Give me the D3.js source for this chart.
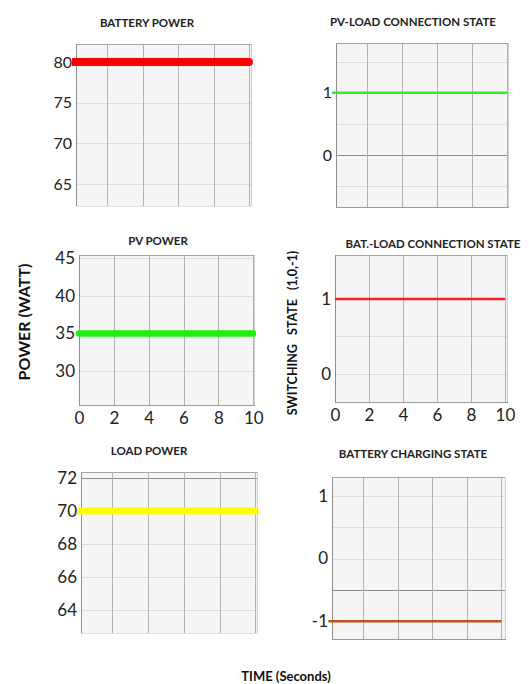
<!DOCTYPE html>
<html>
<head>
<meta charset="utf-8">
<script src="https://cdn.jsdelivr.net/npm/d3@7"></script>
<style>
  html, body { margin: 0; padding: 0; background: #ffffff; }
  svg { display: block; }
</style>
</head>
<body>
<svg id="chart" width="529" height="684"></svg>
<script>
// ---- data ----
const time = [0, 1, 2, 3, 4, 5, 6, 7, 8, 9, 10];
const batteryPower = [80, 80, 80, 80, 80, 80, 80, 80, 80, 80, 80];
const pvPower = [35, 35, 35, 35, 35, 35, 35, 35, 35, 35, 35];
const loadPower = [70, 70, 70, 70, 70, 70, 70, 70, 70, 70, 70];
const pvLoadState = [1, 1, 1, 1, 1, 1, 1, 1, 1, 1, 1];
const batLoadState = [1, 1, 1, 1, 1, 1, 1, 1, 1, 1, 1];
const chargingState = [-1, -1, -1, -1, -1, -1, -1, -1, -1, -1, -1];
const xTicks = [0, 2, 4, 6, 8, 10];
const titles = ["BATTERY POWER", "PV-LOAD CONNECTION STATE", "PV POWER",
                "BAT.-LOAD CONNECTION STATE", "LOAD POWER", "BATTERY CHARGING STATE"];
const batteryTicks = [65, 70, 75, 80];
const pvTicks = [30, 35, 40, 45];
const loadTicks = [64, 66, 68, 70, 72];
const stateTicks01 = [0, 1];
const stateTicks3 = [-1, 0, 1];

// ---- layout (positions / styles) ----
const panels = [
  { title: titles[0], values: batteryPower, box: [76, 44, 252, 207], xd: [0.25, 10.17], yd: [62.2, 82.2],
    yTicks: batteryTicks, hGrid: batteryTicks, dark: [], color: "#ff0000", width: 8, cap: "round",
    titleX: 147, titleY: 27, showX: false, yFont: 16 },
  { title: titles[1], values: pvLoadState, box: [336, 43, 509, 208], xd: [0.23, 10.11], yd: [-0.85, 1.8],
    yTicks: stateTicks01, hGrid: [-0.5, 0, 0.5, 1, 1.5], dark: [0], color: "#33ee22", width: 2.5, cap: "butt",
    titleX: 413, titleY: 26, showX: false, yFont: 16 },
  { title: titles[2], values: pvPower, box: [79, 255, 255, 406], xd: [0, 10.1], yd: [25.4, 45.4],
    yTicks: pvTicks, hGrid: pvTicks, dark: [], color: "#22ee11", width: 6.5, cap: "round",
    titleX: 158, titleY: 245, showX: true, yFont: 17 },
  { title: titles[3], values: batLoadState, box: [335, 255, 508, 403], xd: [0, 10.18], yd: [-0.39, 1.59],
    yTicks: stateTicks01, hGrid: [0, 0.5, 1], dark: [], color: "#ee2222", width: 2.5, cap: "butt",
    titleX: 433, titleY: 248, showX: true, yFont: 17 },
  { title: titles[4], values: loadPower, box: [81, 472, 258, 634], xd: [0.26, 10.15], yd: [62.55, 72.36],
    yTicks: loadTicks, hGrid: loadTicks, dark: [72], color: "#ffff00", width: 7, cap: "round",
    titleX: 149, titleY: 455, showX: false, yFont: 17 },
  { title: titles[5], values: chargingState, box: [332, 477, 506, 640], xd: [0.21, 10.27], yd: [-1.3, 1.3],
    yTicks: stateTicks3, hGrid: [-1, -0.5, 0, 0.5, 1], dark: [-0.5], color: "#b8521f", width: 2.5, cap: "butt",
    titleX: 413, titleY: 458, showX: false, yFont: 17 }
];

const svg = d3.select("#chart");
const FONT = "Lato, 'Open Sans', sans-serif";
const fmt = d => String(d);

panels.forEach((p, i) => {
  const [x0, y0, x1, y1] = p.box;
  const x = d3.scaleLinear().domain(p.xd).range([x0, x1]);
  const y = d3.scaleLinear().domain(p.yd).range([y1, y0]);
  const g = svg.append("g");

  // background
  g.append("rect").attr("x", x0).attr("y", y0).attr("width", x1 - x0).attr("height", y1 - y0)
    .attr("fill", "#f5f5f5");

  // horizontal grid
  g.selectAll(".hg").data(p.hGrid).enter().append("line")
    .attr("x1", x0).attr("x2", x1)
    .attr("y1", d => Math.round(y(d)) + 0.5).attr("y2", d => Math.round(y(d)) + 0.5)
    .attr("stroke", d => p.dark.includes(d) ? "#8c8c8c" : "#dcdcdc").attr("stroke-width", 1);

  // vertical grid
  g.selectAll(".vg").data(xTicks.filter(t => t > 0)).enter().append("line")
    .attr("x1", d => Math.round(x(d)) + 0.5).attr("x2", d => Math.round(x(d)) + 0.5)
    .attr("y1", y0).attr("y2", y1)
    .attr("stroke", "#b3b3b3").attr("stroke-width", 1);

  // border: top & left darker, right lighter
  g.append("line").attr("x1", x0).attr("x2", x1).attr("y1", y0 + 0.5).attr("y2", y0 + 0.5)
    .attr("stroke", "#a6a6a6");
  g.append("line").attr("x1", x0 + 0.5).attr("x2", x0 + 0.5).attr("y1", y0).attr("y2", y1)
    .attr("stroke", "#8f8f8f");
  g.append("line").attr("x1", x1 - 0.5).attr("x2", x1 - 0.5).attr("y1", y0).attr("y2", y1)
    .attr("stroke", "#d0d0d0");
  if (i % 2 === 1 || p.showX) {
    g.append("line").attr("x1", x0).attr("x2", x1).attr("y1", y1 - 0.5).attr("y2", y1 - 0.5)
      .attr("stroke", "#9a9a9a");
  } else {
    g.append("line").attr("x1", x0).attr("x2", x1).attr("y1", y1 - 0.5).attr("y2", y1 - 0.5)
      .attr("stroke", "#e2e2e2");
  }

  // clip
  const cid = "clip" + i;
  svg.append("clipPath").attr("id", cid).append("rect")
    .attr("x", x0 - 4).attr("y", y0).attr("width", x1 - x0 + 5).attr("height", y1 - y0);

  // series line
  const line = d3.line().x((d, k) => x(time[k])).y(d => y(d));
  g.append("path").datum(p.values)
    .attr("d", line)
    .attr("fill", "none")
    .attr("stroke", p.color)
    .attr("stroke-width", p.width)
    .attr("stroke-linecap", p.cap)
    .attr("clip-path", `url(#${cid})`);

  // y axis labels
  const yAxis = d3.axisLeft(y).tickValues(p.yTicks).tickSize(0).tickPadding(4).tickFormat(fmt);
  const ya = g.append("g").attr("transform", `translate(${x0},0)`).call(yAxis);
  ya.select(".domain").remove();
  ya.selectAll("text").attr("font-family", FONT).attr("font-size", p.yFont).attr("fill", "#222");

  // x axis labels
  if (p.showX) {
    const xAxis = d3.axisBottom(x).tickValues(xTicks).tickSize(0).tickPadding(6).tickFormat(fmt);
    const xa = g.append("g").attr("transform", `translate(0,${y1})`).call(xAxis);
    xa.select(".domain").remove();
    xa.selectAll("text").attr("font-family", FONT).attr("font-size", 17).attr("fill", "#222");
  }

  // title
  svg.append("text").attr("x", p.titleX).attr("y", p.titleY)
    .attr("text-anchor", "middle").attr("font-family", FONT).attr("font-weight", "bold")
    .attr("font-size", 11.5).attr("fill", "#222").text(p.title);
});

// axis titles
svg.append("text")
  .attr("transform", "translate(30,322) rotate(-90)")
  .attr("text-anchor", "middle").attr("font-family", FONT).attr("font-weight", "bold")
  .attr("font-size", 16).attr("fill", "#111").text("POWER (WATT)");

svg.append("text")
  .attr("transform", "translate(297,333) rotate(-90)")
  .attr("text-anchor", "middle").attr("font-family", FONT).attr("font-weight", "bold")
  .attr("font-size", 12.5).attr("fill", "#111")
  .style("white-space", "pre")
  .text("SWITCHING   STATE   (1,0,-1)");

svg.append("text")
  .attr("x", 286).attr("y", 681)
  .attr("text-anchor", "middle").attr("font-family", FONT).attr("font-weight", "bold")
  .attr("font-size", 13).attr("fill", "#111").text("TIME (Seconds)");
</script>
</body>
</html>
